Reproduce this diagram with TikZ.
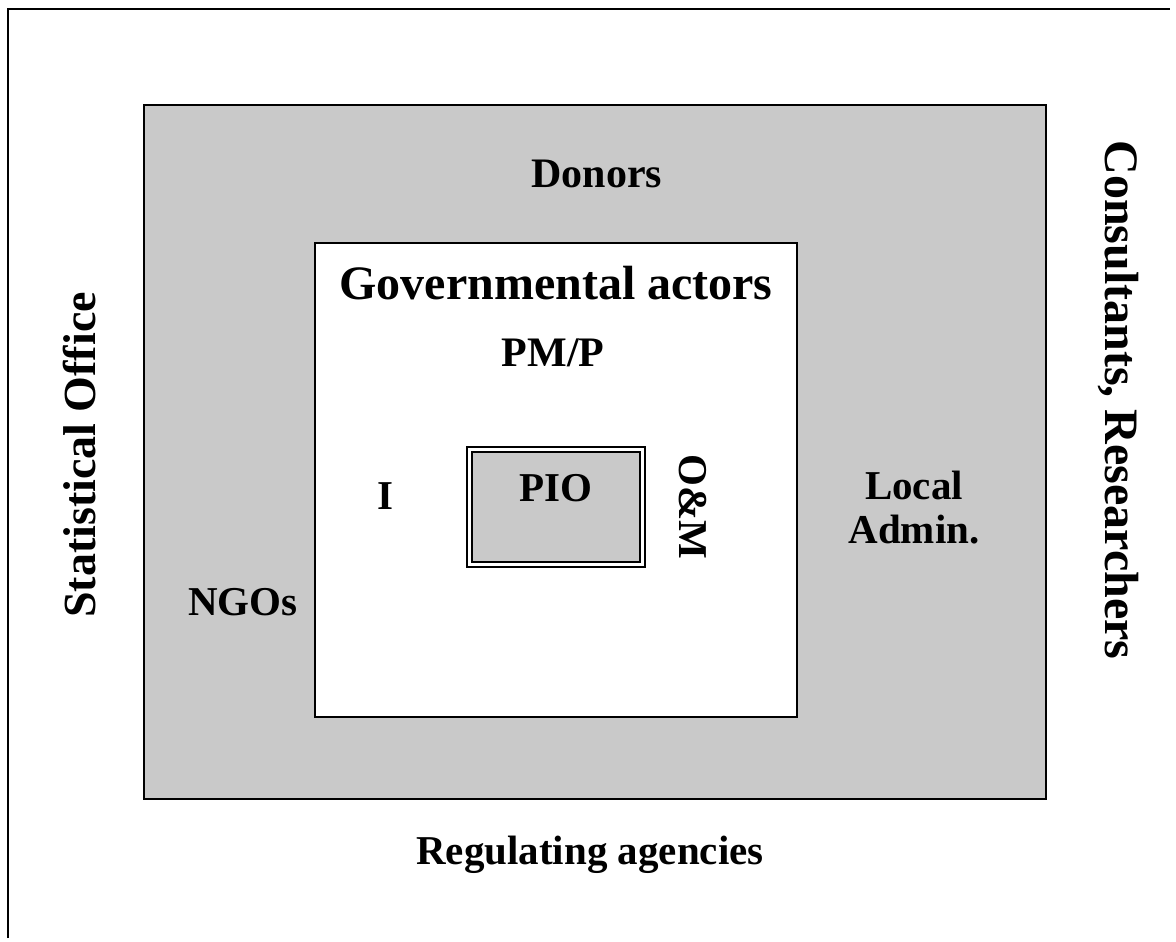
\documentclass[tikz,border=0pt]{standalone}
\usepackage{fontspec}
\setmainfont{Liberation Serif}
\begin{document}
\begin{tikzpicture}[x=0.5pt,y=-0.5pt,
  frameline/.style={line width=0.8pt},
  boxline/.style={draw=black, line width=1pt, inner sep=0pt, outer sep=0pt},
  field/.style={boxline, fill=black!21},
  core/.style={boxline, fill=white},
  lbl/.style={font=\bfseries\fontsize{20.5}{22}\selectfont, inner sep=0pt, align=center},
  title/.style={font=\bfseries\fontsize{24}{28}\selectfont, inner sep=0pt},
  side/.style={font=\bfseries\fontsize{23}{26}\selectfont, inner sep=0pt}]
\useasboundingbox (0,0) rectangle (1176,941);

% page frame: only the top and left edges
\coordinate (fbl) at (8,938);
\coordinate (ftl) at (8,9);
\coordinate (ftr) at (1170,9);
\draw[frameline] (fbl) -- (ftl) -- (ftr);

% outer field of actors
\node[field, minimum width=451pt, minimum height=347pt] (field) at (595,452) {};
% governmental core
\node[core, minimum width=241pt, minimum height=237pt] (gov) at (556,480) {};
% PIO: double-ruled box
\node[core, minimum width=89pt, minimum height=60pt] (pioout) at (556,507) {};
\node[field, line width=0.8pt, minimum width=84pt, minimum height=55pt] (pioin) at (556,507) {};

% labels
\node[lbl, font=\bfseries\fontsize{21}{24}\selectfont] (donors) at (597,174) {Donors};
\node[title] (govt) at (556,283) {Governmental actors};
\node[lbl, font=\bfseries\fontsize{21}{24}\selectfont] (pmp) at (553,353) {PM/P};
\node[lbl] (i) at (385,496) {I};
\node[lbl] (pio) at (556,488) {PIO};
\node[lbl, rotate=-90] (om) at (693,507) {O\&M};
\node[lbl, font=\bfseries\fontsize{20.5}{22}\selectfont] (local) at (914,508) {Local\\Admin.};
\node[lbl] (ngos) at (243,602) {NGOs};
\node[side, rotate=90] (stat) at (80,455) {Statistical Office};
\node[side, font=\bfseries\fontsize{24}{26}\selectfont, rotate=-90] (cons) at (1118,400) {Consultants, Researchers};
\node[lbl] (reg) at (590,855) {Regulating agencies};
\end{tikzpicture}
\end{document}
